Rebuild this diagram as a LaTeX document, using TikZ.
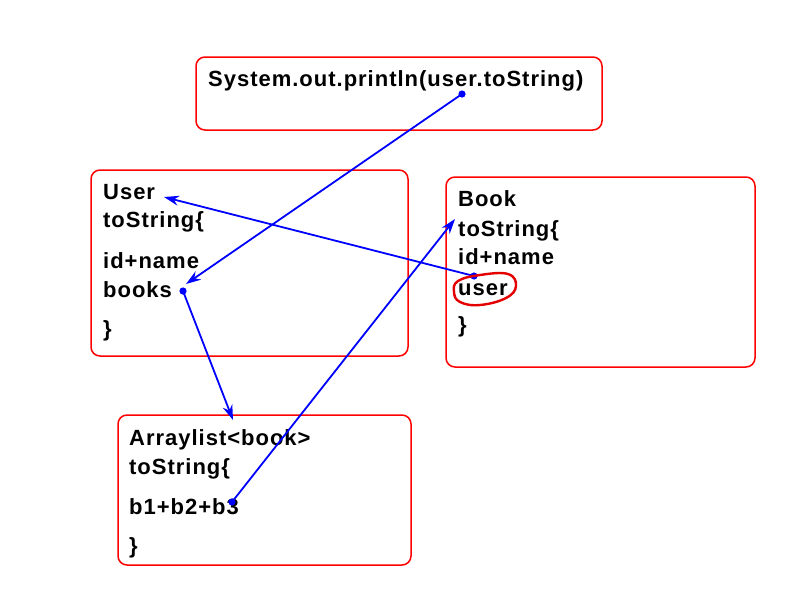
\documentclass[tikz,border=0pt]{standalone}
\usepackage{fontspec}
\setmainfont{Liberation Sans}[LetterSpace=4.5]
\usetikzlibrary{arrows.meta}
\tikzset{
  okvir/.style={draw=red, line width=1.5pt, rounded corners=9pt},
  besedilo/.style={anchor=base west, inner sep=0pt, font=\bfseries\fontsize{22}{24}\selectfont},
  puscica/.style={blue, line width=1.8pt, -{Stealth[length=15pt,width=10pt]}},
}
\begin{document}
\begin{tikzpicture}[x=1pt, y=-1pt]
  \useasboundingbox (0, 0) rectangle (800, 600);
  % okvirji
  \draw [okvir] (196, 57) rectangle (602, 130);
  \draw [okvir] (91, 170) rectangle (408, 356);
  \draw [okvir] (446, 177) rectangle (755, 367);
  \draw [okvir] (118, 415) rectangle (411, 565);
  % besedila
  \node [besedilo] (izpis) at (208, 86) {System.out.println(user.toString)};
  \node [besedilo] (user) at (103, 199) {User};
  \node [besedilo] (utos) at (103, 227) {toString\{};
  \node [besedilo] (uid) at (103, 268) {id+name};
  \node [besedilo] (books) at (103, 297) {books};
  \node [besedilo] (uzak) at (103, 336) {\}};
  \node [besedilo] (book) at (458, 206) {Book};
  \node [besedilo] (btos) at (458, 236) {toString\{};
  \node [besedilo] (bid) at (458, 264) {id+name};
  \node [besedilo] (buser) at (458, 295) {user};
  \node [besedilo] (bzak) at (458, 332) {\}};
  \node [besedilo] (alist) at (129, 445) {Arraylist<book>};
  \node [besedilo] (atos) at (129, 474) {toString\{};
  \node [besedilo] (bji) at (129, 514) {b1+b2+b3};
  \node [besedilo] (azak) at (129, 553) {\}};
  % koordinate
  \coordinate (P1) at (462, 94);
  \coordinate (K1) at (186, 284);
  \coordinate (P2) at (474, 276);
  \coordinate (K2) at (164, 197);
  \coordinate (P3) at (183, 291);
  \coordinate (K3) at (233, 420);
  \coordinate (P4) at (232, 502);
  \coordinate (K4) at (455, 219);
  % puščice
  \draw [puscica] (P1) -- (K1);
  \draw [puscica] (P2) -- (K2);
  \draw [puscica] (P3) -- (K3);
  \draw [puscica] (P4) -- (K4);
  \foreach \t in {P1, P2, P3, P4}
    \fill [blue] (\t) circle (3.6);
  % obroba
  \draw [red!90!black, line width=2.4pt, fill=none] plot [smooth cycle, tension=0.7]
    coordinates {(458, 281) (480, 275) (508, 274) (516, 286) (506, 298) (480, 305) (460, 302) (454, 292)};
\end{tikzpicture}
\end{document}
